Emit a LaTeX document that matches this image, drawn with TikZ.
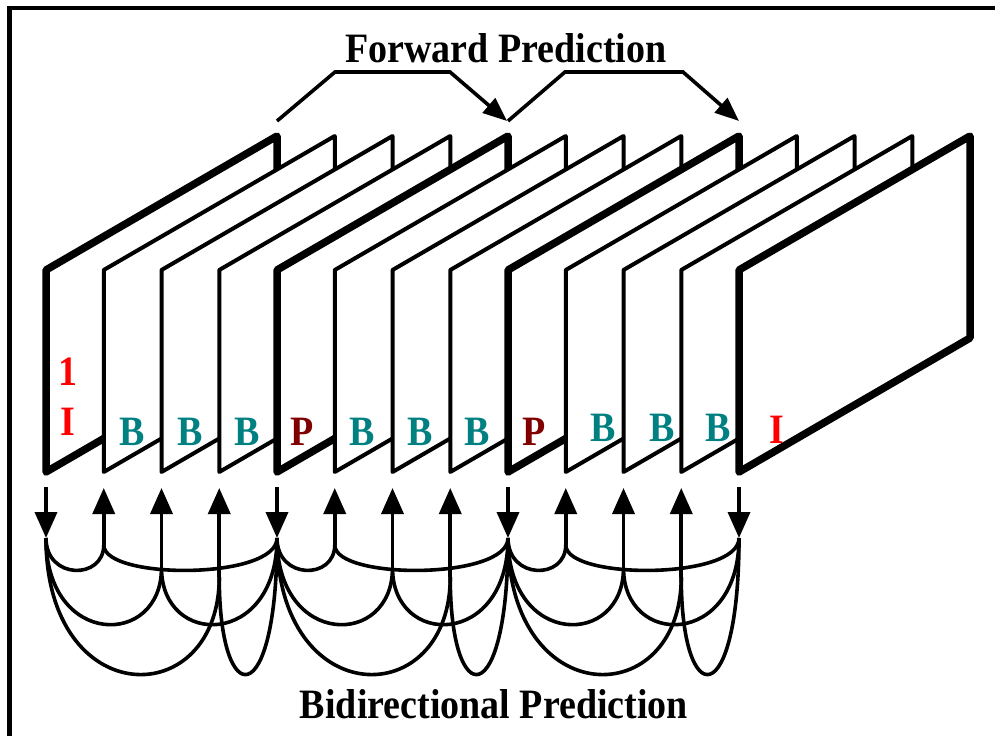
\documentclass[tikz,border=0pt]{standalone}
\usepackage{fontspec}
\setmainfont{Liberation Serif}
\usepackage{graphicx}
\usetikzlibrary{arrows.meta}
\definecolor{iRed}{RGB}{255,0,0}
\definecolor{bTeal}{RGB}{0,128,128}
\definecolor{pRed}{RGB}{128,0,0}
\newcommand\vstretch[1]{\scalebox{1}[1.1]{#1}}
\tikzset{
  border/.style={line width=4.5pt, line join=miter},
  framebox/.style={draw=black, fill=white, line join=round},
  stem/.style={line width=3.6pt, -{Triangle[width=22pt,length=26pt]}},
  arc/.style={line width=3.6pt},
  fwd/.style={line width=3.6pt, line join=miter, -{Triangle[width=19pt,length=24pt]}},
  lab/.style={font=\fontsize{38}{40}\selectfont\bfseries, anchor=base, inner sep=0pt},
  title/.style={font=\fontsize{38}{40}\selectfont\bfseries, anchor=base, inner sep=0pt}
}
\begin{document}
\begin{tikzpicture}[x=1pt,y=-1pt]
\useasboundingbox (0,0) rectangle (995,736);
\fill[white] (0,0) rectangle (995,736);
\draw[border] (9.5,736) -- (9.5,8) -- (995,8);

% frames, back-to-front from left to right
\foreach \i in {1,...,13}{
  \pgfmathsetmacro\xo{46+57.75*(\i-1)}
  \pgfmathtruncatemacro\kind{mod(\i-1,4)}
  \pgfmathsetmacro\lw{\kind==0 ? 7.5 : 4}
  \draw[framebox, line width=\lw pt] (\xo,472) -- ++(0,-202) -- ++(231,-134) -- ++(0,202) -- cycle;
  \ifnum\kind=0
    \coordinate (u\i) at (\xo,487);
    \coordinate (v\i) at (\xo,538);
  \else
    \pgfmathsetmacro\yend{\kind==1 ? 545 : (\kind==2 ? 568 : 577)}
    \coordinate (u\i) at (\xo,488);
    \coordinate (v\i) at (\xo,\yend);
  \fi
}

% vertical arrows
\foreach \i in {1,5,9,13}{ \draw[stem] (u\i) -- (v\i); }
\foreach \i in {2,3,4,6,7,8,10,11,12}{ \draw[stem] (v\i) -- (u\i); }

% bidirectional arcs
\foreach \g in {0,1,2}{
  \pgfmathtruncatemacro\a{4*\g+1}
  \pgfmathtruncatemacro\bA{4*\g+2}
  \pgfmathtruncatemacro\bB{4*\g+3}
  \pgfmathtruncatemacro\bC{4*\g+4}
  \pgfmathtruncatemacro\c{4*\g+5}
  \draw[arc] (v\a) .. controls +(0,42) and +(0,35) .. (v\bA);
  \draw[arc] (v\bA) .. controls +(0,35) and +(0,42) .. (v\c);
  \draw[arc] (v\a) .. controls +(0,110) and +(0,80) .. (v\bB);
  \draw[arc] (v\bB) .. controls +(0,80) and +(0,110) .. (v\c);
  \draw[arc] (v\a) .. controls +(0,175) and +(0,136) .. (v\bC);
  \draw[arc] (v\bC) .. controls +(0,136) and +(0,175) .. (v\c);
}

% frame labels
\node[lab, text=iRed] (one) at (68,385) {\vstretch{1}};
\node[lab, text=iRed] (L1) at (68,435) {\vstretch{I}};
\node[lab, text=bTeal] (L2) at (132,445) {\vstretch{B}};
\node[lab, text=bTeal] (L3) at (190,445) {\vstretch{B}};
\node[lab, text=bTeal] (L4) at (247,445) {\vstretch{B}};
\node[lab, text=pRed] (L5) at (302,445) {\vstretch{P}};
\node[lab, text=bTeal] (L6) at (362,445) {\vstretch{B}};
\node[lab, text=bTeal] (L7) at (420,445) {\vstretch{B}};
\node[lab, text=bTeal] (L8) at (477,445) {\vstretch{B}};
\node[lab, text=pRed] (L9) at (534,445) {\vstretch{P}};
\node[lab, text=bTeal] (L10) at (603,441) {\vstretch{B}};
\node[lab, text=bTeal] (L11) at (662,441) {\vstretch{B}};
\node[lab, text=bTeal] (L12) at (718,441) {\vstretch{B}};
\node[lab, text=iRed] (L13) at (777,443) {\vstretch{I}};

% forward prediction arrows
\coordinate (fa) at (277,121);
\coordinate (fb) at (335,72);
\coordinate (fc) at (450,72);
\coordinate (fd) at (507,121);
\coordinate (ga) at (508,121);
\coordinate (gb) at (565,72);
\coordinate (gc) at (683,72);
\coordinate (gd) at (739,121);
\draw[fwd] (fa) -- (fb) -- (fc) -- (fd);
\draw[fwd] (ga) -- (gb) -- (gc) -- (gd);

% titles
\node[title] (fwdtitle) at (506,62) {\vstretch{Forward Prediction}};
\node[title] (bidtitle) at (494,718) {\vstretch{Bidirectional Prediction}};
\end{tikzpicture}
\end{document}
